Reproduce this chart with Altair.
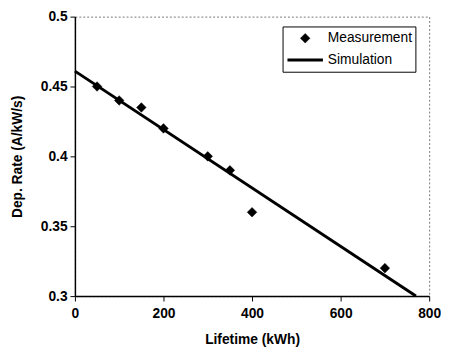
import altair as alt
import pandas as pd

meas_x = [50, 100, 150, 200, 300, 350, 400, 700]
meas_y = [0.45, 0.44, 0.435, 0.42, 0.40, 0.39, 0.36, 0.32]
sim_x = [0, 770]
sim_y = [0.461, 0.300]
series = ["Measurement", "Simulation"]
x_ticks = [0, 200, 400, 600, 800]
y_ticks = [0.3, 0.35, 0.4, 0.45, 0.5]

meas = pd.DataFrame({"x": meas_x, "y": meas_y, "s": ["Measurement"] * len(meas_x)})
sim = pd.DataFrame({"x": sim_x, "y": sim_y, "s": ["Simulation"] * len(sim_x)})

FONT = "Liberation Sans"

xenc = alt.X("x:Q", scale=alt.Scale(domain=[0, 800], nice=False, zero=False),
             axis=alt.Axis(values=x_ticks, title="Lifetime (kWh)", format="d"))
yenc = alt.Y("y:Q", scale=alt.Scale(domain=[0.3, 0.5], nice=False, zero=False),
             axis=alt.Axis(values=y_ticks, title="Dep. Rate (A/kW/s)", format=".2~f"))

legend = alt.Legend(title=None, orient="none", legendX=211, legendY=10,
                    strokeColor="black", fillColor="white", padding=3,
                    labelFont=FONT, labelFontSize=14, labelColor="black",
                    clipHeight=18, rowPadding=4, labelOffset=3)

black2 = alt.Scale(domain=series, range=["black", "black"])
points = alt.Chart(meas).mark_point(filled=True, opacity=1).encode(
    x=xenc, y=yenc,
    shape=alt.Shape("s:N", scale=alt.Scale(domain=series, range=["diamond", "stroke"]), legend=legend),
    size=alt.Size("s:N", scale=alt.Scale(type="point", domain=series, range=[95, 1300], padding=0), legend=legend),
    strokeWidth=alt.StrokeWidth("s:N", scale=alt.Scale(type="point", domain=series, range=[0.5, 3], padding=0), legend=legend),
    stroke=alt.Stroke("s:N", scale=black2, legend=legend),
    fill=alt.Fill("s:N", scale=black2, legend=legend),
)
line = alt.Chart(sim).mark_line(color="black", strokeWidth=3).encode(x=xenc, y=yenc)

chart = (line + points).properties(
    width=360, height=284,
    autosize=alt.AutoSizeParams(type="none"),
    padding={"left": 68, "top": 6, "right": 12, "bottom": 52},
).configure_view(
    stroke="#777", strokeDash=[2, 2], strokeWidth=1
).configure_axis(
    grid=False, domainColor="black", domainWidth=1.5, tickColor="black", tickSize=5,
    labelFlush=False,
    labelFont=FONT, labelFontSize=14, labelFontWeight="bold", labelColor="black",
    titleFont=FONT, titleFontSize=14, titleFontWeight="bold", titleColor="black",
).configure_axisY(titlePadding=16, labelPadding=3).configure_axisX(titlePadding=12, labelPadding=6)

chart.save("out.html", embed_options={"renderer": "svg", "actions": False})
